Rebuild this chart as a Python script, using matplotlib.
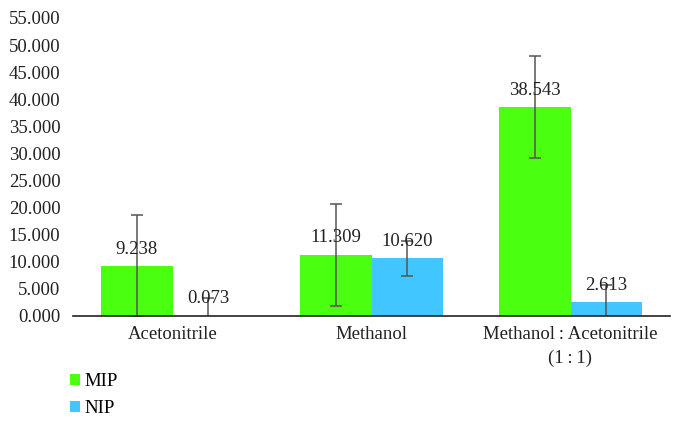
import numpy as np
import matplotlib
matplotlib.use("Agg")
import matplotlib.pyplot as plt

# Дані
categories = ["Acetonitrile", "Methanol", "Methanol\u2009:\u2009Acetonitrile\n(1\u2009:\u20091)"]
mip = [9.238, 11.309, 38.543]
nip = [0.073, 10.620, 2.613]
mip_err = [9.4, 9.4, 9.4]
nip_err = [3.3, 3.15, 3.1]
series_names = ["MIP", "NIP"]

plt.rcParams["font.family"] = ["Liberation Serif", "DejaVu Serif"]
plt.rcParams["font.size"] = 13.5

green = "#4bff10"
blue = "#41c6ff"

fig = plt.figure(figsize=(6.82, 4.30), dpi=100)
ax = fig.add_axes([73 / 682, 1 - 316 / 430, 597 / 682, 298 / 430])

x = np.arange(len(categories))
w = 0.36
err_kw = dict(ecolor="#555555", elinewidth=1.1, capsize=4, capthick=1.1)
b1 = ax.bar(x - w / 2, mip, w, yerr=mip_err, color=green, label=series_names[0], error_kw=err_kw)
b2 = ax.bar(x + w / 2, nip, w, yerr=nip_err, color=blue, label=series_names[1], error_kw=err_kw)

# Підписи значень
for bars in (b1, b2):
    for rect in bars:
        h = rect.get_height()
        ax.annotate(f"{h:.3f}", (rect.get_x() + rect.get_width() / 2, h),
                    xytext=(0, 6), textcoords="offset points",
                    ha="center", va="bottom", color="#222222", zorder=5)

ax.set_xlim(-0.5, 2.5)
ax.set_ylim(0, 55)
ax.set_yticks(np.arange(0, 56, 5))
ax.set_yticklabels([f"{v:.3f}" for v in np.arange(0, 56, 5)])
ax.set_xticks(x)
ax.set_xticklabels(categories, linespacing=1.55)

for s in ["top", "right", "left"]:
    ax.spines[s].set_visible(False)
ax.spines["bottom"].set_color("#222222")
ax.spines["bottom"].set_linewidth(1.2)
ax.tick_params(axis="both", length=0, colors="#222222")
ax.tick_params(axis="y", pad=9)
ax.tick_params(axis="x", pad=7)

fig.legend(loc="upper left", bbox_to_anchor=(70 / 682, 1 - 373 / 430),
           frameon=False, handlelength=0.55, handleheight=0.55,
           handletextpad=0.2, labelspacing=0.55, borderpad=0, borderaxespad=0)

fig.savefig("out.png", dpi=100)
